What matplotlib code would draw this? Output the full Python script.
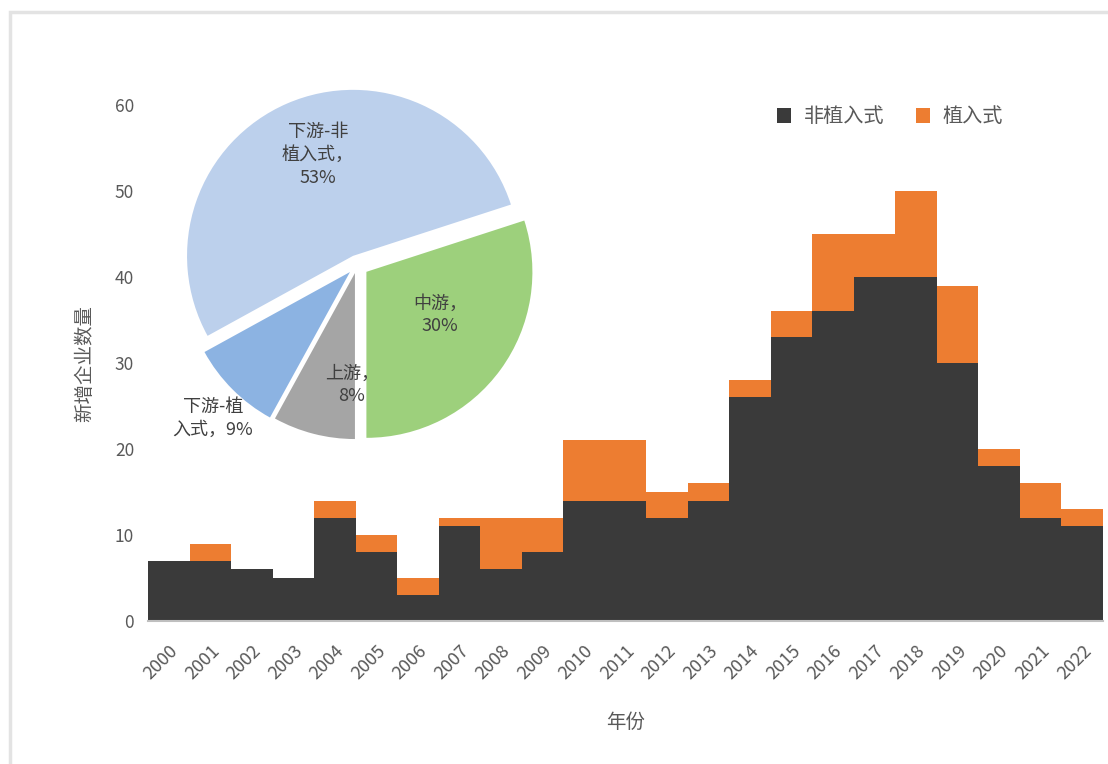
import matplotlib
matplotlib.use("Agg")
import matplotlib.pyplot as plt
from matplotlib.patches import Rectangle
import numpy as np

plt.rcParams['font.family'] = ['Noto Sans CJK SC', 'DejaVu Sans']

# ---- data ----
years = [str(y) for y in range(2000, 2023)]
non_implant = [7, 7, 6, 5, 12, 8, 3, 11, 6, 8, 14, 14, 12, 14, 26, 33, 36, 40, 40, 30, 18, 12, 11]
implant     = [0, 2, 0, 0, 2, 2, 2, 1, 6, 4, 7, 7, 3, 2, 2, 3, 9, 5, 10, 9, 2, 4, 2]
series_names = ['非植入式', '植入式']

pie_labels = ['中游，\n30%', '下游-非\n植入式，\n53%', '下游-植\n入式，9%', '上游，\n8%']
pie_values = [30, 53, 9, 8]

yticks = [0, 10, 20, 30, 40, 50, 60]

# ---- style ----
C_BLACK = '#3a3a3a'
C_ORANGE = '#ED7D31'
PIE_COLORS = ['#9dd07c', '#bcd0ec', '#8cb3e2', '#a5a5a5']
TXT = '#595959'

W, H = 1108, 764
fig = plt.figure(figsize=(W / 100, H / 100), dpi=100)

# light frame
fig.patches.append(Rectangle((10 / W, -0.1), 1.2, (H - 12) / H + 0.1,
                             transform=fig.transFigure, fill=False,
                             edgecolor='#e3e3e3', linewidth=2.5))

# bar axes
ax = fig.add_axes([148 / W, (H - 621) / H, (1103 - 148) / W, (621 - 105) / H])
x = np.arange(len(years))
ax.bar(x, non_implant, width=1.0, color=C_BLACK, label=series_names[0], zorder=2)
ax.bar(x, implant, width=1.0, bottom=non_implant, color=C_ORANGE, label=series_names[1], zorder=2)
ax.set_xlim(-0.5, len(years) - 0.5)
ax.set_ylim(0, 60)
ax.set_yticks(yticks)
ax.set_xticks(x)
ax.set_xticklabels(years, rotation=45, ha='right', rotation_mode='anchor')
ax.tick_params(axis='both', length=0, colors=TXT, labelsize=12.5)
ax.tick_params(axis='y', pad=10)
ax.tick_params(axis='x', pad=15)
for lab in ax.get_xticklabels():
    lab.set_fontsize(13)
for s in ['top', 'right', 'left']:
    ax.spines[s].set_visible(False)
ax.spines['bottom'].set_color('#bfbfbf')
ax.spines['bottom'].set_linewidth(1.5)
ax.spines['bottom'].set_zorder(3)
ax.set_ylabel('新增企业数量', color=TXT, fontsize=14, labelpad=14)
ax.set_xlabel('年份', color=TXT, fontsize=14, labelpad=21)

leg = ax.legend(loc='center', bbox_to_anchor=(890 / W, (H - 117) / H),
                bbox_transform=fig.transFigure, ncol=2, frameon=False,
                fontsize=14.5, handlelength=0.7, handleheight=0.7,
                handletextpad=0.6, columnspacing=1.6)
for t in leg.get_texts():
    t.set_color(TXT)

# pie axes
R = 166
cx, cy = 357, 265
half = 1.25 * R
pax = fig.add_axes([(cx - half) / W, (H - cy - half) / H, 2 * half / W, 2 * half / H])
pax.pie(pie_values, colors=PIE_COLORS, startangle=270, counterclock=True,
        explode=[0.07, 0.06, 0.06, 0.05], radius=1.0,
        wedgeprops=dict(linewidth=0))
pax.set_xlim(-1.25, 1.25)
pax.set_ylim(-1.25, 1.25)
pax.set_aspect('equal')
pax.axis('off')

label_pos = [(440, 315), (318, 155), (213, 418), (352, 385)]
for lab, (px, py) in zip(pie_labels, label_pos):
    pax.text((px - cx) / R, (cy - py) / R, lab, ha='center', va='center',
             fontsize=13, color='#404040', linespacing=1.35)

fig.savefig('out.png', dpi=100)
